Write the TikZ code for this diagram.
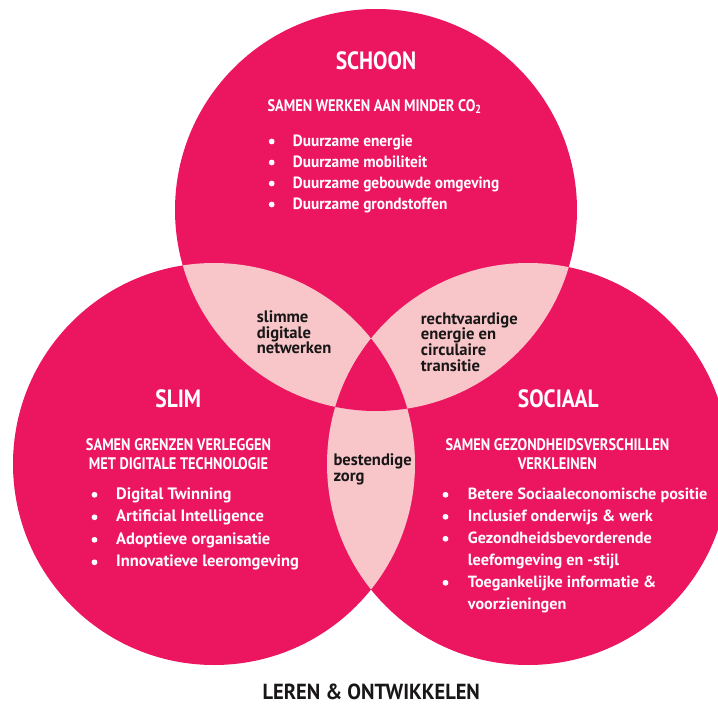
\documentclass[tikz,border=0pt]{standalone}
\usepackage{fontspec}
\setmainfont{PT Sans}[FakeStretch=0.86]
\newfontfamily\midB{PT Sans}[FakeStretch=0.94]
\newfontfamily\wideB{PT Sans}
\definecolor{mag}{RGB}{236,21,96}
\definecolor{lenspink}{RGB}{248,198,200}
\definecolor{ink}{RGB}{24,22,23}
\tikzset{
  ttl/.style={text=white, inner sep=0pt, font=\fontsize{25}{28}\selectfont\bfseries},
  sub/.style={text=white, inner sep=0pt, font=\fontsize{16.7}{19.3}\selectfont\bfseries},
  itm/.style={text=white, inner sep=0pt, anchor=base west, font=\wideB\fontsize{16.2}{19}\selectfont\bfseries},
  itmS/.style={itm, font=\midB\fontsize{16.3}{19}\selectfont\bfseries},
  itmL/.style={itm, font=\wideB\fontsize{16.5}{19}\selectfont\bfseries},
  bul/.style={fill=white, circle, inner sep=0pt, minimum size=5.8pt},
  lenstxt/.style={text=ink, inner sep=0pt, anchor=base west, align=left, font=\wideB\fontsize{16.6}{15.6}\selectfont\bfseries},
  foot/.style={text=ink, inner sep=0pt, font=\midB\fontsize{21.8}{25}\selectfont\bfseries}
}
\begin{document}
\begin{tikzpicture}[x=1pt,y=-1pt]
\useasboundingbox (0,0) rectangle (718,704);
\coordinate (cT) at (376,210);
\coordinate (cL) at (214,464);
\coordinate (cR) at (528,464);
% circles
\fill[mag] (cT) circle[radius=201pt];
\fill[mag] (cL) circle[radius=201pt];
\fill[mag] (cR) circle[radius=201pt];
% pairwise lenses
\begin{scope}\clip (cT) circle[radius=201pt]; \fill[lenspink] (cL) circle[radius=201pt];\end{scope}
\begin{scope}\clip (cT) circle[radius=201pt]; \fill[lenspink] (cR) circle[radius=201pt];\end{scope}
\begin{scope}\clip (cL) circle[radius=201pt]; \fill[lenspink] (cR) circle[radius=201pt];\end{scope}
% triple centre
\begin{scope}\clip (cT) circle[radius=201pt]; \clip (cL) circle[radius=201pt]; \fill[mag] (cR) circle[radius=201pt];\end{scope}

% SCHOON
\node[ttl] (schoon) at (376,60.4) {SCHOON};
\node[sub, anchor=base west] (schoonsub) at (267.3,111) {SAMEN WERKEN AAN MINDER CO\textsubscript{2}};
\node[bul] (sb1) at (271.7,141.5) {};
\node[bul] (sb2) at (271.7,162.5) {};
\node[bul] (sb3) at (271.7,183.5) {};
\node[bul] (sb4) at (271.7,204.5) {};
\node[itmS] (si1) at (292.7,146) {Duurzame energie};
\node[itmS] (si2) at (292.7,167) {Duurzame mobiliteit};
\node[itmS] (si3) at (292.7,188) {Duurzame gebouwde omgeving};
\node[itmS] (si4) at (292.7,209) {Duurzame grondstoffen};

% SLIM
\node[ttl] (slim) at (178.3,398.7) {SLIM};
\node[sub, anchor=base] (slimsub1) at (178.5,450) {SAMEN GRENZEN VERLEGGEN};
\node[sub, anchor=base] (slimsub2) at (178.5,469.3) {MET DIGITALE TECHNOLOGIE};
\node[bul] (lb1) at (94.5,494.8) {};
\node[bul] (lb2) at (94.5,517.3) {};
\node[bul] (lb3) at (94.5,539.8) {};
\node[bul] (lb4) at (94.5,562.3) {};
\node[itmL] (li1) at (116,499.3) {Digital Twinning};
\node[itmL] (li2) at (116,521.8) {Artificial Intelligence};
\node[itmL] (li3) at (116,544.3) {Adoptieve organisatie};
\node[itmL] (li4) at (116,566.8) {Innovatieve leeromgeving};

% SOCIAAL
\node[ttl] (sociaal) at (558.3,398.7) {SOCIAAL};
\node[sub, anchor=base] (socsub1) at (557.5,450) {SAMEN GEZONDHEIDSVERSCHILLEN};
\node[sub, anchor=base] (socsub2) at (557.3,469.5) {VERKLEINEN};
\node[bul] (rb1) at (445.5,494.8) {};
\node[bul] (rb2) at (445.5,516.8) {};
\node[bul] (rb3) at (445.5,538.8) {};
\node[bul] (rb4) at (445.5,582.8) {};
\node[itm] (ri1) at (467.7,499.3) {Betere Sociaaleconomische positie};
\node[itm] (ri2) at (467.7,521.3) {Inclusief onderwijs \& werk};
\node[itm] (ri3) at (467.7,543.3) {Gezondheidsbevorderende};
\node[itm] (ri3b) at (467.7,565.3) {leefomgeving en -stijl};
\node[itm] (ri4) at (467.7,587.3) {Toegankelijke informatie \&};
\node[itm] (ri4b) at (467.7,609.3) {voorzieningen};

% lens texts (anchored at the baseline of the last line)
\node[lenstxt] (tl) at (256.7,353.9) {slimme\\digitale\\netwerken};
\node[lenstxt, font=\wideB\fontsize{16.6}{15.9}\selectfont\bfseries] (tr) at (420.7,371.7) {rechtvaardige\\energie en\\circulaire\\transitie};
\node[lenstxt, font=\wideB\fontsize{16.6}{16.7}\selectfont\bfseries] (bz) at (333.3,481.7) {bestendige\\zorg};

% footer
\node[foot] (leren) at (371.3,692) {LEREN \& ONTWIKKELEN};
\end{tikzpicture}
\end{document}
